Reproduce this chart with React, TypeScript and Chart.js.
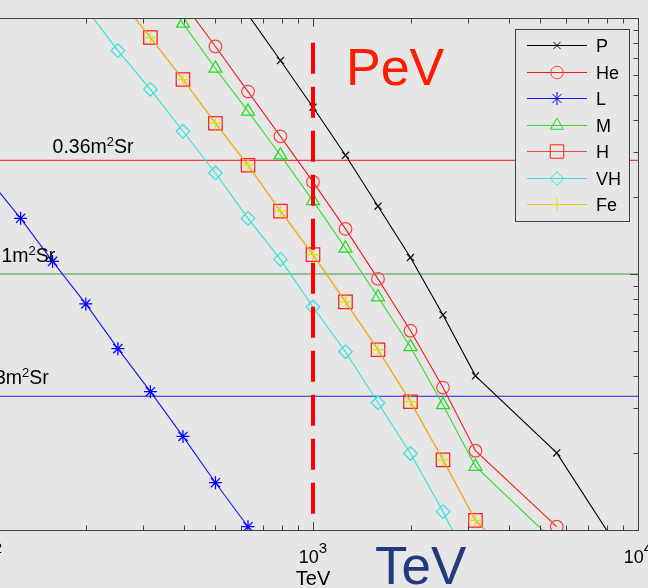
import React, { useEffect, useRef } from 'react';
import { Chart, registerables } from 'chart.js';
import { drawPoint } from 'chart.js/helpers';

Chart.register(...registerables);

// ---------- data (energies in TeV, rates) ----------
const energiesP = [501, 631, 794, 1000, 1259, 1585, 1995, 2512, 3162, 5623, 10000];
const valuesP = [15.1, 10.3, 6.82, 4.48, 2.91, 1.84, 1.16, 0.692, 0.4, 0.2, 0.0646];

const energiesHe = [398, 501, 631, 794, 1000, 1259, 1585, 1995, 2512, 3162, 5623];
const valuesHe = [11.5, 7.74, 5.16, 3.45, 2.29, 1.5, 0.957, 0.6, 0.36, 0.204, 0.103];

const energiesL = [100, 126, 158, 200, 251, 316, 398, 501, 631];
const valuesL = [2.37, 1.65, 1.12, 0.764, 0.511, 0.347, 0.232, 0.153, 0.103];

const energiesM = [316, 398, 501, 631, 794, 1000, 1259, 1585, 1995, 2512, 3162, 5623];
const valuesM = [14.1, 9.53, 6.35, 4.32, 2.91, 1.93, 1.26, 0.813, 0.519, 0.308, 0.177, 0.0885];

const energiesH = [251, 316, 398, 501, 631, 794, 1000, 1259, 1585, 1995, 2512, 3162, 5623];
const valuesH = [12.1, 8.39, 5.75, 3.88, 2.66, 1.76, 1.19, 0.778, 0.506, 0.317, 0.188, 0.109, 0.0521];

const energiesVH = [200, 251, 316, 398, 501, 631, 794, 1000, 1259, 1585, 1995, 2512, 3162];
const valuesVH = [10.9, 7.46, 5.26, 3.61, 2.48, 1.65, 1.14, 0.743, 0.497, 0.314, 0.199, 0.118, 0.066];

const energiesFe = [251, 316, 398, 501, 631, 794, 1000, 1259, 1585, 1995, 2512, 3162, 5623];
const valuesFe = [12.1, 8.39, 5.75, 3.88, 2.66, 1.76, 1.19, 0.778, 0.506, 0.317, 0.188, 0.109, 0.0521];

const seriesNames = ['P', 'He', 'L', 'M', 'H', 'VH', 'Fe'];

const thresholdLabels = ['0.36', '1', '3'];
const thresholdValues = [2.78, 1, 0.333];
const thresholdRange = [100, 10000];

const pevEnergy = [1000, 1000];
const pevValues = [8, 0.115];

const xMin = 100;
const xMax = 10000;
const yMin = 0.1;
const yMax = 10;
const xMajorExponents = [2, 3, 4];

// ---------- styles ----------
const OFF = 100;
const CW = 760;
const CH = 588;
const BG = '#e6e6e6';
const FONT = '"Liberation Sans", Arial, Helvetica, sans-serif';

const styles: Record<string, any> = {
  P: { color: '#000000', marker: '#111111', pointStyle: 'crossRot', r: 5 },
  He: { color: '#f01c1c', marker: '#f04848', pointStyle: 'circle', r: 6.3 },
  L: { color: '#1414ff', marker: '#0000ff', pointStyle: 'star', r: 6.5 },
  M: { color: '#2edc2e', marker: '#22dd22', pointStyle: 'triangle', r: 7.5 },
  H: { color: '#f04848', marker: '#ff1a1a', pointStyle: 'rect', r: 9.5 },
  VH: { color: '#30e0e0', marker: '#3fe0e0', pointStyle: 'rectRot', r: 6.8 },
  Fe: { color: '#eec610', marker: '#e0e000', pointStyle: 'cross', r: 6.5 },
};
const thresholdColors = ['#ff1010', '#3c963c', '#2020e0'];

function series(name: string, xs: number[], ys: number[], order: number) {
  const st = styles[name];
  return {
    label: name,
    data: xs.map((x, i) => ({ x, y: ys[i] })),
    borderColor: st.color,
    borderWidth: 1.1,
    pointStyle: st.pointStyle,
    pointRadius: st.r,
    pointBorderColor: st.marker,
    pointBackgroundColor: 'rgba(0,0,0,0)',
    pointBorderWidth: 1.25,
    order,
    clip: 0,
  };
}

function drawSup(ctx: CanvasRenderingContext2D, base: string, sup: string, tail: string, x: number, y: number, bs: number, ss: number, rise: number, center: boolean) {
  ctx.font = `${bs}px ${FONT}`;
  const wb = ctx.measureText(base).width;
  const wt = ctx.measureText(tail).width;
  ctx.font = `${ss}px ${FONT}`;
  const ws = ctx.measureText(sup).width;
  let sx = center ? x - (wb + ws + wt) / 2 : x;
  ctx.textAlign = 'left';
  ctx.textBaseline = 'alphabetic';
  ctx.font = `${bs}px ${FONT}`;
  ctx.fillText(base, sx, y);
  ctx.font = `${ss}px ${FONT}`;
  ctx.fillText(sup, sx + wb, y - rise);
  if (tail) {
    ctx.font = `${bs}px ${FONT}`;
    ctx.fillText(tail, sx + wb + ws, y);
  }
}

const decorPlugin = {
  id: 'decor',
  afterDraw(chart: any) {
    const ctx: CanvasRenderingContext2D = chart.ctx;
    const xs = chart.scales.x;
    const ys = chart.scales.y;
    const a = chart.chartArea;
    const L = Math.round(a.left) + 0.5;
    const R = Math.round(a.right) + 0.5;
    const T = Math.round(a.top) + 0.5;
    const B = Math.round(a.bottom) + 0.5;
    ctx.save();

    // axes box
    ctx.strokeStyle = '#404040';
    ctx.lineWidth = 1;
    ctx.beginPath();
    ctx.moveTo(L, T); ctx.lineTo(R, T); ctx.lineTo(R, B); ctx.lineTo(L, B); ctx.closePath();
    ctx.stroke();

    // x ticks
    ctx.beginPath();
    for (let e = 2; e < 4; e++) {
      for (let m = 1; m <= 10; m++) {
        const v = m * Math.pow(10, e);
        if (v < xMin || v > xMax) continue;
        const px = Math.round(xs.getPixelForValue(v)) + 0.5;
        const len = m === 1 || m === 10 ? 8 : 5;
        ctx.moveTo(px, B); ctx.lineTo(px, B - len);
        ctx.moveTo(px, T); ctx.lineTo(px, T + len);
      }
    }
    // y ticks
    for (let e = -1; e < 1; e++) {
      for (let m = 1; m <= 10; m++) {
        const v = m * Math.pow(10, e);
        const py = Math.round(ys.getPixelForValue(v)) + 0.5;
        const len = m === 1 || m === 10 ? 8 : 5;
        ctx.moveTo(R, py); ctx.lineTo(R - len, py);
        ctx.moveTo(L, py); ctx.lineTo(L + len, py);
      }
    }
    ctx.stroke();

    // x tick labels
    ctx.fillStyle = '#000000';
    xMajorExponents.forEach((n) => {
      const px = xs.getPixelForValue(Math.pow(10, n));
      drawSup(ctx, '10', String(n), '', px, 563, 18, 15, 10, true);
    });

    // axis title
    ctx.font = `20px ${FONT}`;
    ctx.textAlign = 'center';
    ctx.textBaseline = 'alphabetic';
    ctx.fillText('TeV', xs.getPixelForValue(1000), 585);

    // threshold labels
    const labelPos = [
      { e: 158, dy: -7 },
      { e: 110, dy: -12 },
      { e: 105, dy: -12 },
    ];
    thresholdLabels.forEach((t, i) => {
      const px = xs.getPixelForValue(labelPos[i].e);
      const py = ys.getPixelForValue(thresholdValues[i]) + labelPos[i].dy;
      ctx.fillStyle = '#000000';
      drawSup(ctx, t + 'm', '2', 'Sr', px, py, 19.5, 13, 7.5, false);
    });

    // legend
    const lx0 = 515 + OFF, ly0 = 29, lx1 = 629 + OFF, ly1 = 221;
    ctx.fillStyle = BG;
    ctx.fillRect(lx0, ly0, lx1 - lx0, ly1 - ly0);
    ctx.strokeStyle = '#404040';
    ctx.lineWidth = 1;
    ctx.strokeRect(lx0 + 0.5, ly0 + 0.5, lx1 - lx0, ly1 - ly0);
    seriesNames.forEach((name, i) => {
      const st = styles[name];
      const y = Math.round(45 + i * 26.5) + 0.5;
      ctx.strokeStyle = st.color;
      ctx.lineWidth = 1;
      ctx.beginPath();
      ctx.moveTo(527 + OFF, y); ctx.lineTo(587 + OFF, y);
      ctx.stroke();
      ctx.strokeStyle = st.marker;
      ctx.fillStyle = 'rgba(0,0,0,0)';
      drawPoint(ctx, { pointStyle: st.pointStyle, radius: st.r, borderWidth: 1.25, rotation: 0 } as any, 557 + OFF, y);
      ctx.fillStyle = '#000000';
      ctx.font = `18px ${FONT}`;
      ctx.textAlign = 'left';
      ctx.textBaseline = 'alphabetic';
      ctx.fillText(name, 596 + OFF, y + 6.5);
    });

    // big annotations
    ctx.textAlign = 'left';
    ctx.textBaseline = 'alphabetic';
    ctx.font = `52px ${FONT}`;
    ctx.fillStyle = '#ff1a00';
    ctx.fillText('PeV', 346 + OFF, 85);
    ctx.font = `53px ${FONT}`;
    ctx.fillStyle = '#22397f';
    ctx.fillText('TeV', 375 + OFF, 584);

    ctx.restore();
  },
};

export default function App() {
  const ref = useRef<HTMLCanvasElement>(null);
  useEffect(() => {
    const datasets: any[] = [
      series('P', energiesP, valuesP, 7),
      series('He', energiesHe, valuesHe, 6),
      series('L', energiesL, valuesL, 5),
      series('M', energiesM, valuesM, 4),
      series('H', energiesH, valuesH, 3),
      series('VH', energiesVH, valuesVH, 2),
      series('Fe', energiesFe, valuesFe, 1),
    ];
    thresholdValues.forEach((v, i) => {
      datasets.push({
        label: thresholdLabels[i] + ' m2Sr',
        data: thresholdRange.map((x) => ({ x, y: v })),
        borderColor: thresholdColors[i],
        borderWidth: 1,
        pointRadius: 0,
        order: 10 + i,
        clip: 0,
      });
    });
    datasets.push({
      label: 'PeV',
      data: pevEnergy.map((x, i) => ({ x, y: pevValues[i] })),
      borderColor: '#ff0000',
      borderWidth: 4,
      borderDash: [31, 13],
      borderCapStyle: 'butt',
      pointRadius: 0,
      order: 0,
      clip: 0,
    });

    const chart = new Chart(ref.current as HTMLCanvasElement, {
      type: 'line',
      data: { datasets },
      options: {
        animation: false,
        responsive: false,
        devicePixelRatio: 1,
        events: [],
        layout: { padding: { left: 88, right: CW - 738, top: 18, bottom: CH - 530 } },
        elements: { line: { tension: 0 } },
        plugins: { legend: { display: false }, tooltip: { enabled: false } },
        scales: {
          x: { type: 'logarithmic', min: xMin, max: xMax, display: false },
          y: { type: 'logarithmic', min: yMin, max: yMax, display: false },
        },
      } as any,
      plugins: [decorPlugin],
    });
    return () => chart.destroy();
  }, []);

  return (
    <div style={{ position: 'fixed', left: 0, top: 0, width: 648, height: 588, overflow: 'hidden', background: BG }}>
      <canvas ref={ref} width={CW} height={CH} style={{ position: 'absolute', left: -OFF, top: 0, width: CW, height: CH }} />
    </div>
  );
}
